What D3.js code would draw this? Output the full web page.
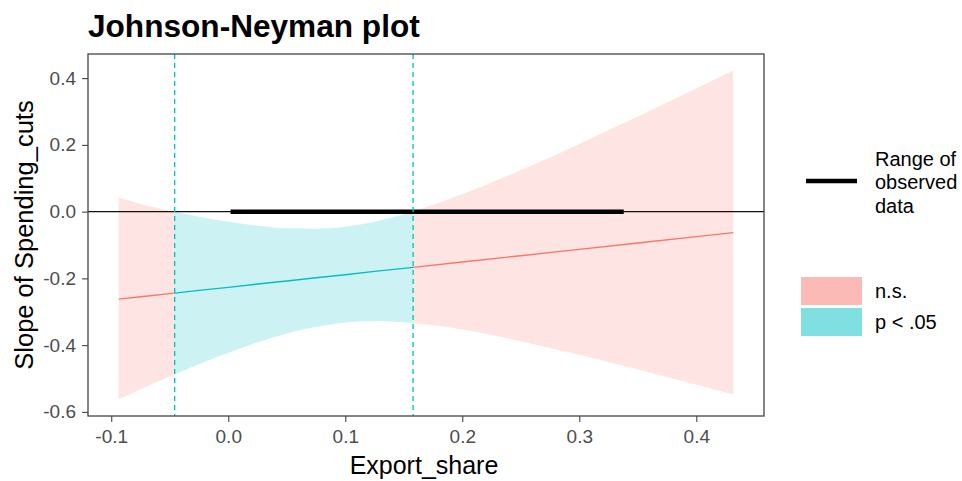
<!DOCTYPE html>
<html>
<head>
<meta charset="utf-8">
<script src="https://cdn.jsdelivr.net/npm/d3@7"></script>
<style>
  html, body { margin: 0; padding: 0; background: #fff; }
  svg { display: block; font-family: "Liberation Sans", Arial, sans-serif; }
</style>
</head>
<body>
<svg id="chart" width="962" height="481"></svg>
<script>
// Conditional slope of Spending_cuts across Export_share
const exportShare = [-0.0936, -0.075, -0.0458, -0.025, 0, 0.025, 0.05, 0.075, 0.1, 0.125, 0.158, 0.2, 0.25, 0.3, 0.35, 0.4, 0.4316];
const slopeEst    = [-0.262, -0.255, -0.244, -0.236, -0.227, -0.217, -0.208, -0.198, -0.189, -0.179, -0.167, -0.151, -0.132, -0.113, -0.094, -0.075, -0.063];
const slopeLower  = [-0.563, -0.532, -0.488, -0.457, -0.423, -0.392, -0.365, -0.345, -0.333, -0.328, -0.334, -0.353, -0.388, -0.429, -0.473, -0.518, -0.548];
const slopeUpper  = [0.042, 0.023, 0.000, -0.015, -0.030, -0.042, -0.050, -0.051, -0.045, -0.030, 0.000, 0.052, 0.124, 0.203, 0.285, 0.369, 0.423];

// Johnson-Neyman interval bounds and observed moderator range
const jnBounds = [-0.0458, 0.158];
const observedRange = [0.002, 0.338];

const xTicks = [-0.1, 0.0, 0.1, 0.2, 0.3, 0.4];
const yTicks = [-0.6, -0.4, -0.2, 0.0, 0.2, 0.4];

const legendLabels = ["n.s.", "p < .05"];
const rangeLabel = ["Range of", "observed", "data"];
const titleText = "Johnson-Neyman plot";
const xTitle = "Export_share";
const yTitle = "Slope of Spending_cuts";

const colNS = "#F8766D", colSig = "#00BFC4";

const svg = d3.select("#chart");
const panel = { left: 88, right: 764, top: 54, bottom: 416 };

const rows = exportShare.map((x, i) => ({ x, est: slopeEst[i], lo: slopeLower[i], hi: slopeUpper[i] }));

function expand(ext, f) { const r = ext[1] - ext[0]; return [ext[0] - r * f, ext[1] + r * f]; }

const x = d3.scaleLinear()
  .domain(expand(d3.extent(exportShare), 0.05))
  .range([panel.left, panel.right]);
const y = d3.scaleLinear()
  .domain(expand([d3.min(slopeLower), d3.max(slopeUpper)], 0.05))
  .range([panel.bottom, panel.top]);

const segments = [
  { rows: rows.filter(d => d.x <= jnBounds[0]), color: colNS },
  { rows: rows.filter(d => d.x >= jnBounds[0] && d.x <= jnBounds[1]), color: colSig },
  { rows: rows.filter(d => d.x >= jnBounds[1]), color: colNS }
];

svg.append("clipPath").attr("id", "panel-clip")
  .append("rect").attr("x", panel.left).attr("y", panel.top)
  .attr("width", panel.right - panel.left).attr("height", panel.bottom - panel.top);

const plot = svg.append("g").attr("clip-path", "url(#panel-clip)");

const band = d3.area().x(d => x(d.x)).y0(d => y(d.lo)).y1(d => y(d.hi)).curve(d3.curveMonotoneX);
const line = d3.line().x(d => x(d.x)).y(d => y(d.est));

segments.forEach(s => {
  plot.append("path").attr("d", band(s.rows))
    .attr("fill", s.color).attr("fill-opacity", 0.2).attr("stroke", "none");
});

// zero reference line
plot.append("line")
  .attr("x1", panel.left).attr("x2", panel.right)
  .attr("y1", y(0)).attr("y2", y(0))
  .attr("stroke", "#111").attr("stroke-width", 1.2);

// observed data range
plot.append("line")
  .attr("x1", x(observedRange[0])).attr("x2", x(observedRange[1]))
  .attr("y1", y(0)).attr("y2", y(0))
  .attr("stroke", "#000").attr("stroke-width", 4.5);

segments.forEach(s => {
  plot.append("path").attr("d", line(s.rows))
    .attr("fill", "none").attr("stroke", s.color).attr("stroke-width", 1.4);
});

// Johnson-Neyman boundaries
jnBounds.forEach(b => {
  plot.append("line")
    .attr("x1", x(b)).attr("x2", x(b))
    .attr("y1", panel.top).attr("y2", panel.bottom)
    .attr("stroke", colSig).attr("stroke-width", 1.3)
    .attr("stroke-dasharray", "5,4");
});

// panel border
svg.append("rect")
  .attr("x", panel.left).attr("y", panel.top)
  .attr("width", panel.right - panel.left).attr("height", panel.bottom - panel.top)
  .attr("fill", "none").attr("stroke", "#444").attr("stroke-width", 1.3);

// axes
const xAxis = svg.append("g").attr("transform", `translate(0,${panel.bottom})`)
  .call(d3.axisBottom(x).tickValues(xTicks).tickFormat(d3.format(".1f")).tickSizeOuter(0).tickSize(6).tickPadding(8));
const yAxis = svg.append("g").attr("transform", `translate(${panel.left},0)`)
  .call(d3.axisLeft(y).tickValues(yTicks).tickFormat(d3.format(".1f")).tickSizeOuter(0).tickSize(6).tickPadding(6));

[xAxis, yAxis].forEach(a => {
  a.select(".domain").remove();
  a.selectAll(".tick line").attr("stroke", "#444").attr("stroke-width", 1.1);
  a.selectAll(".tick text").attr("fill", "#4D4D4D")
    .style("font-size", "19px").style("font-family", "Liberation Sans, Arial, sans-serif");
});
yAxis.selectAll(".tick text").text(d => d3.format(".1f")(d).replace("−", "-"));
xAxis.selectAll(".tick text").text(d => d3.format(".1f")(d).replace("−", "-"));

// titles
svg.append("text").attr("x", panel.left).attr("y", 37)
  .attr("font-size", "31.6px").attr("font-weight", "bold").attr("fill", "#000")
  .text(titleText);

svg.append("text").attr("x", (panel.left + panel.right) / 2 - 2).attr("y", 474)
  .attr("text-anchor", "middle").attr("font-size", "25px").attr("fill", "#000")
  .text(xTitle);

svg.append("text")
  .attr("transform", `translate(33,${(panel.top + panel.bottom) / 2}) rotate(-90)`)
  .attr("text-anchor", "middle").attr("font-size", "25.5px").attr("fill", "#000")
  .text(yTitle);

// legend: observed range key
const lg = svg.append("g");
lg.append("line").attr("x1", 806).attr("x2", 857).attr("y1", 181).attr("y2", 181)
  .attr("stroke", "#000").attr("stroke-width", 4.5);
rangeLabel.forEach((t, i) => {
  lg.append("text").attr("x", 875).attr("y", 166 + i * 23.3)
    .attr("font-size", "20px").attr("fill", "#000").text(t);
});

// legend: significance fills
const keyColors = [colNS, colSig];
legendLabels.forEach((t, i) => {
  const top = 277 + i * 31;
  lg.append("rect").attr("x", 801).attr("y", top).attr("width", 61).attr("height", 28)
    .attr("fill", keyColors[i]).attr("fill-opacity", 0.5);
  lg.append("text").attr("x", 875).attr("y", top + 21)
    .attr("font-size", "20px").attr("fill", "#000").text(t);
});
</script>
</body>
</html>
